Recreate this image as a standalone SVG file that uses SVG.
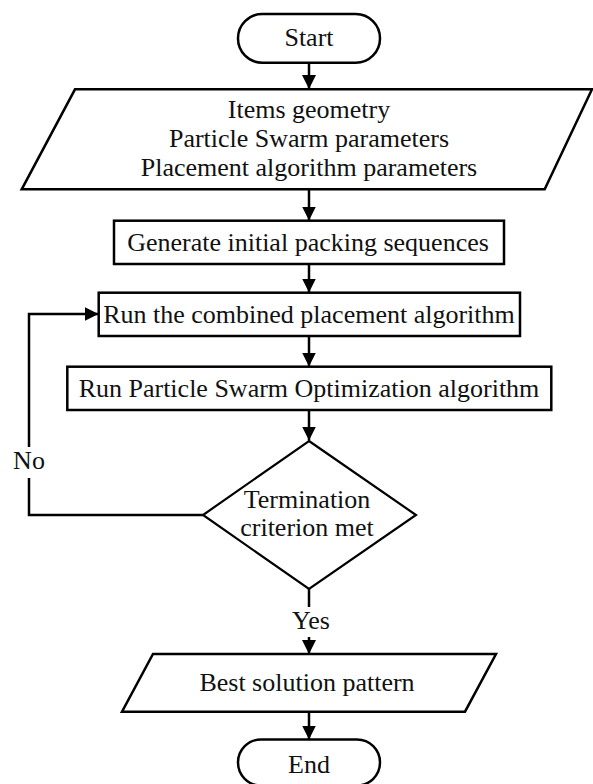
<svg xmlns="http://www.w3.org/2000/svg" width="593" height="784" viewBox="0 0 593 784">
<defs>
<style>
.shape{fill:#fff;stroke:#000;stroke-width:2.5;stroke-linejoin:miter}
.dia{fill:#fff;stroke:#000;stroke-width:2.2}
.conn{fill:none;stroke:#000;stroke-width:2.5}
text{font-family:"Liberation Serif","Times New Roman",serif;font-size:26px;fill:#111;text-anchor:middle}
</style>
<marker id="ah" markerUnits="userSpaceOnUse" markerWidth="14" markerHeight="16" viewBox="0 0 14 16" refX="14" refY="8" orient="auto">
<path d="M0,1 L14,8 L0,15 Z" fill="#000"/>
</marker>
</defs>
<rect width="593" height="784" fill="#fff"/>
<g id="connectors">
<path class="conn" d="M309,63 V89" marker-end="url(#ah)"/>
<path class="conn" d="M309,190 V220.5" marker-end="url(#ah)"/>
<path class="conn" d="M309,264 V292.5" marker-end="url(#ah)"/>
<path class="conn" d="M309,336 V366.5" marker-end="url(#ah)"/>
<path class="conn" d="M309,410 V440.5" marker-end="url(#ah)"/>
<path class="conn" d="M309,589 V607"/>
<path class="conn" d="M309,637 V654" marker-end="url(#ah)"/>
<path class="conn" d="M309,712 V739.5" marker-end="url(#ah)"/>
<path class="conn" d="M203,515 H29 V478"/>
<path class="conn" d="M29,447 V314 H98.5" marker-end="url(#ah)"/>
<text x="29" y="469">No</text>
<text x="311" y="629">Yes</text>
</g>
<g id="start">
<rect class="shape" x="238" y="14" width="142" height="48.7" rx="24.3"/>
<text x="309" y="46">Start</text>
</g>
<g id="input">
<polygon class="shape" points="75,89.3 592,89.3 544.7,189.3 21.7,189.3"/>
<text x="309" y="118">Items geometry</text>
<text x="309" y="147">Particle Swarm parameters</text>
<text x="309" y="176">Placement algorithm parameters</text>
</g>
<g id="generate">
<rect class="shape" x="114" y="220.7" width="390" height="43.3"/>
<text x="308" y="251">Generate initial packing sequences</text>
</g>
<g id="combined">
<rect class="shape" x="98.7" y="292.7" width="421.3" height="43.3"/>
<text x="309" y="323">Run the combined placement algorithm</text>
</g>
<g id="pso">
<rect class="shape" x="67.3" y="366.7" width="484" height="43.3"/>
<text x="309" y="397">Run Particle Swarm Optimization algorithm</text>
</g>
<g id="decision">
<polygon class="dia" points="309,441 416,515 309,589 203,515"/>
<text x="307" y="508">Termination</text>
<text x="307" y="536">criterion met</text>
</g>
<g id="output">
<polygon class="shape" points="153,654 496,654 465,711.7 122,711.7"/>
<text x="307" y="691">Best solution pattern</text>
</g>
<g id="end">
<rect class="shape" x="238" y="739.5" width="142" height="46" rx="23"/>
<text x="309" y="773">End</text>
</g>
</svg>
